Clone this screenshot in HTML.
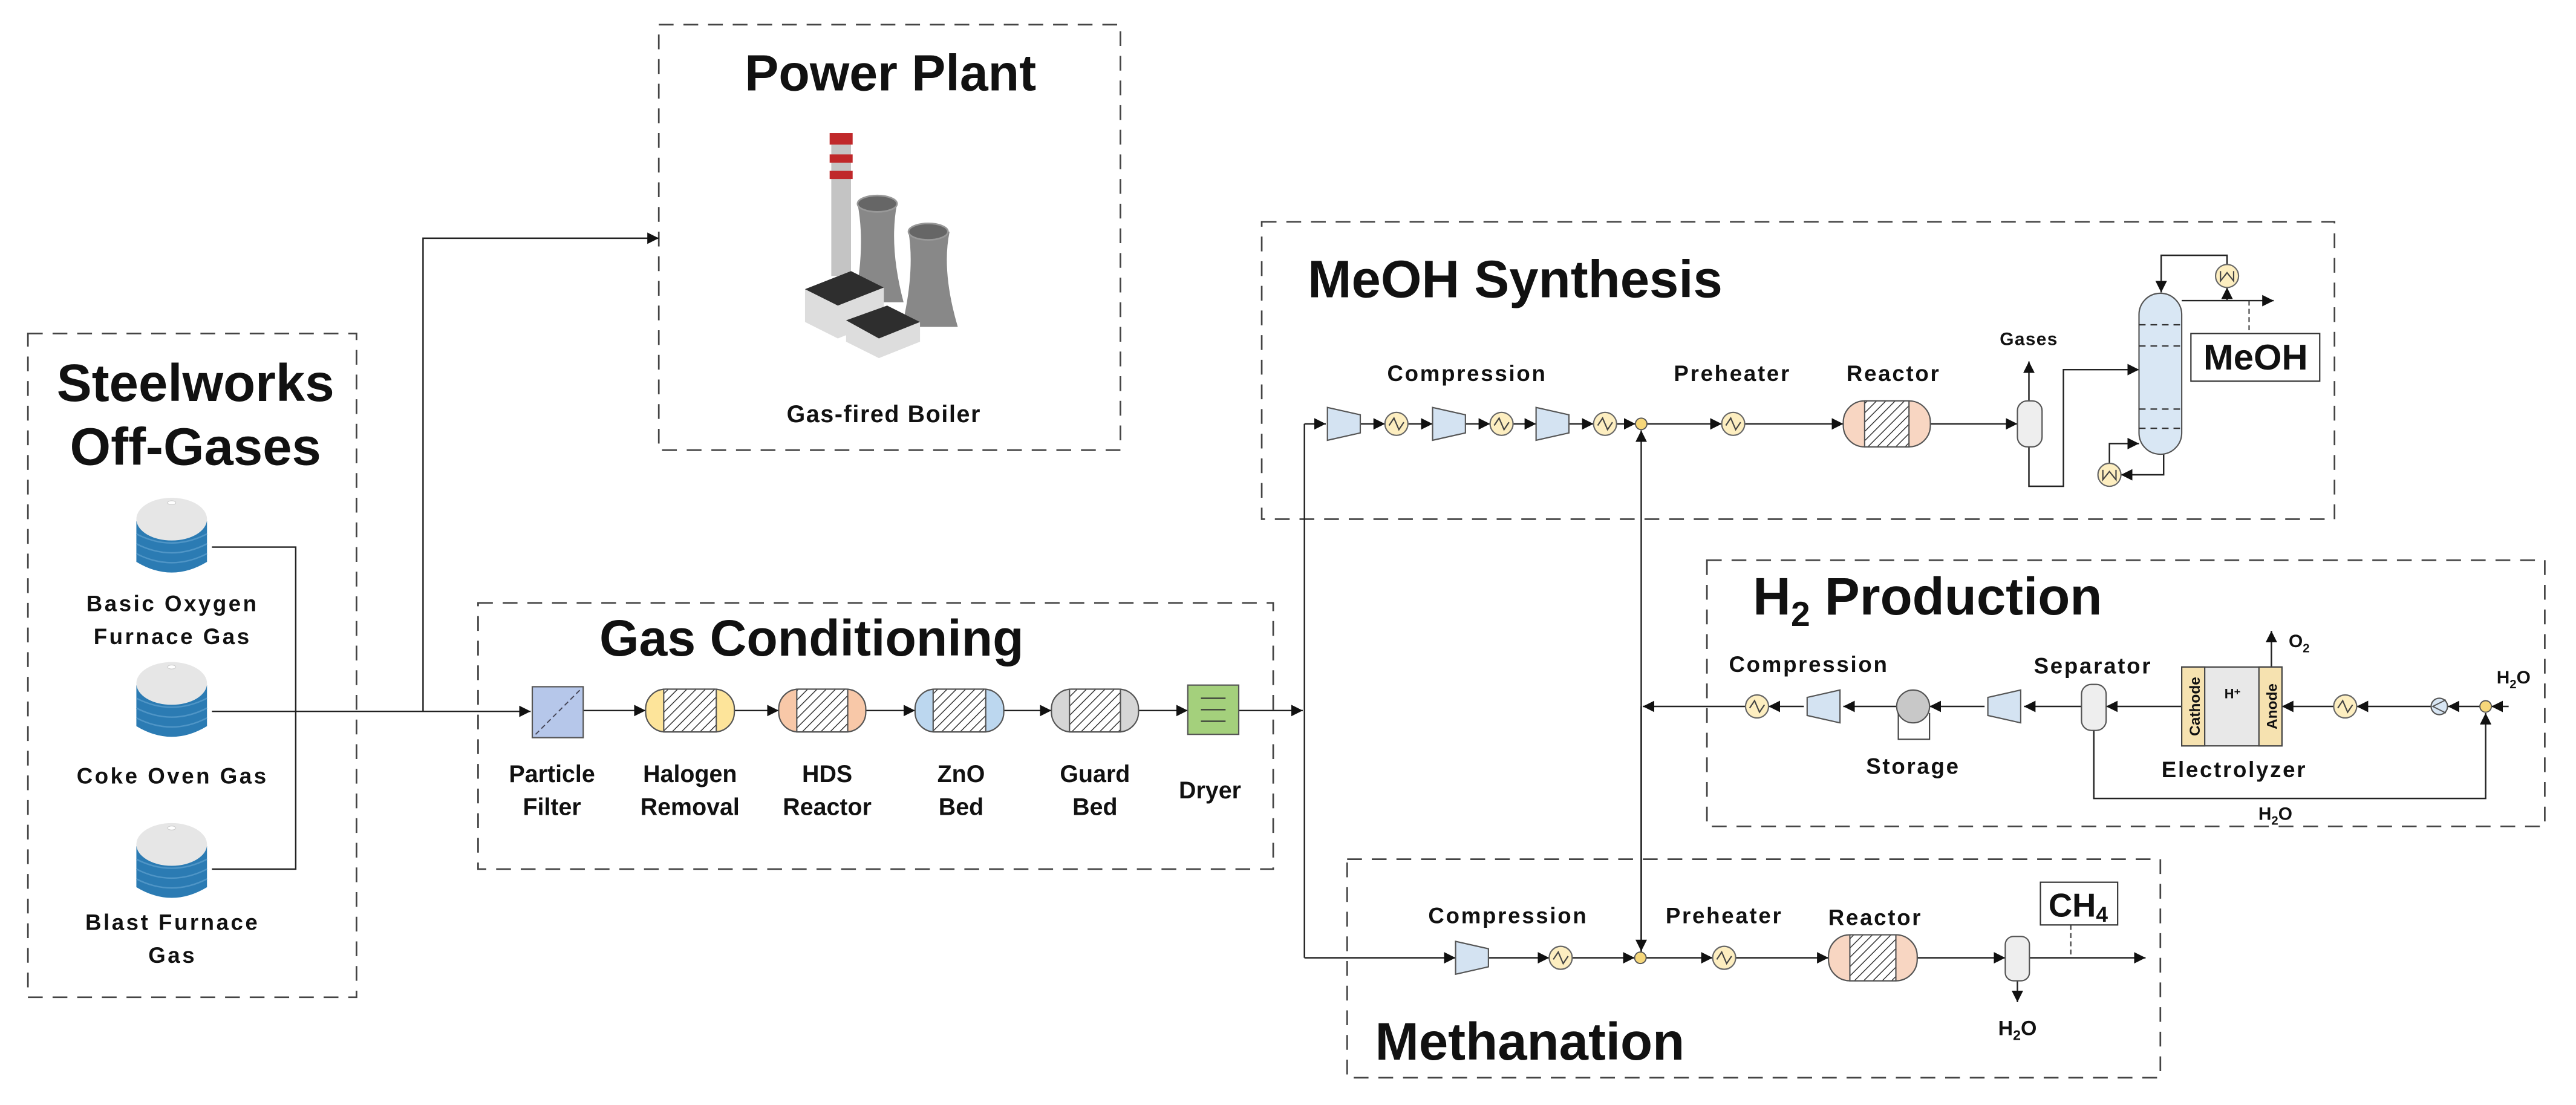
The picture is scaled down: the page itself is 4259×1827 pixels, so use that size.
<!DOCTYPE html>
<html><head><meta charset="utf-8"><style>
html,body{margin:0;padding:0;background:#fff;}
svg{display:block;}
text{font-family:"Liberation Sans",Arial,sans-serif;font-weight:bold;fill:#111;}
</style></head><body>
<svg width="4259" height="1827" viewBox="0 0 1568 672.6" preserveAspectRatio="none" xmlns="http://www.w3.org/2000/svg">
<defs>
<marker id="a" viewBox="0 0 10 10" refX="10" refY="5" markerWidth="7" markerHeight="7" orient="auto" markerUnits="userSpaceOnUse"><path d="M0,0L10,5L0,10z" fill="#111"/></marker>
<pattern id="h" width="4" height="4" patternUnits="userSpaceOnUse" patternTransform="rotate(45)"><rect width="4" height="4" fill="#fff"/><line x1="0" y1="0" x2="0" y2="4" stroke="#333" stroke-width="1.1"/></pattern>
<g id="hx"><circle r="7" fill="#fdeec0" stroke="#666" stroke-width="0.8"/><path d="M-4.5,1 L-1.5,-3.5 L1.5,3.5 L4.5,-1" fill="none" stroke="#444" stroke-width="0.8"/></g>
<g id="hxv"><circle r="7" fill="#fdeec0" stroke="#666" stroke-width="0.8"/><path d="M3,-4 L-3,-4 L2,0 L-3,4 L3,4" fill="none" stroke="#444" stroke-width="0.8" transform="rotate(-90)"/></g>
<g id="cmp"><path d="M-10,-10 L10,-5.5 L10,5.5 L-10,10z" fill="#d4e3f2" stroke="#555" stroke-width="0.8"/></g>
<g id="cmpL"><path d="M10,-10 L-10,-5.5 L-10,5.5 L10,10z" fill="#d4e3f2" stroke="#555" stroke-width="0.8"/></g>
<g id="mix"><circle r="3.5" fill="#f6d77a" stroke="#555" stroke-width="0.7"/></g>
<g id="tank">
<path d="M-21.5,-9 L-21.5,16 Q0,29 21.5,16 L21.5,-9z" fill="#2b7bb3"/>
<path d="M-21.5,-1 Q0,10 21.5,-1 M-21.5,5 Q0,16 21.5,5 M-21.5,11 Q0,22 21.5,11" fill="none" stroke="#4f95c6" stroke-width="0.9"/>
<ellipse cx="0" cy="-10" rx="21.5" ry="13" fill="#e6e6e6"/>
<ellipse cx="0" cy="-20" rx="2.5" ry="1.2" fill="#fff" stroke="#ccc" stroke-width="0.4"/>
</g>
</defs>

<g fill="none" stroke="#444" stroke-width="1" stroke-dasharray="9,6">
<rect x="401" y="15" width="281" height="259"/>
<rect x="17" y="203" width="200" height="404"/>
<rect x="291" y="367" width="484" height="162"/>
<rect x="768" y="135" width="653" height="181"/>
<rect x="1039" y="341" width="510" height="162"/>
<rect x="820" y="523" width="495" height="133"/>
</g>

<!-- titles -->
<text x="542" y="55" font-size="31" text-anchor="middle">Power Plant</text>
<text x="119" y="244" font-size="32" text-anchor="middle">Steelworks</text>
<text x="119" y="283" font-size="32" text-anchor="middle">Off-Gases</text>
<text x="494" y="399" font-size="31" text-anchor="middle">Gas Conditioning</text>
<text x="796" y="181" font-size="32">MeOH Synthesis</text>
<text x="1067" y="374" font-size="32">H<tspan font-size="21" dy="7">2</tspan><tspan dy="-7"> Production</tspan></text>
<text x="837" y="645" font-size="32">Methanation</text>

<!-- power plant icon -->
<rect x="506" y="88" width="12" height="80" fill="#c4c4c4"/>
<rect x="505" y="81" width="14" height="7" fill="#c0282a"/>
<rect x="505" y="94" width="14" height="5" fill="#c0282a"/>
<rect x="505" y="104" width="14" height="5" fill="#c0282a"/>
<path d="M522,124 L546,124 Q541,150 550,184 L520,184 Q527,150 522,124z" fill="#888"/>
<ellipse cx="534" cy="124" rx="12" ry="5" fill="#666" stroke="#999"/>
<path d="M553,141 L578,141 Q573,165 583,199 L549,199 Q557,165 553,141z" fill="#888"/>
<ellipse cx="565" cy="141" rx="12" ry="5" fill="#666" stroke="#999"/>
<path d="M490,176 L518,165 L538,175 L538,195 L510,206 L490,196z" fill="#ddd"/>
<path d="M490,176 L518,165 L538,175 L510,186z" fill="#2e2e2e"/>
<path d="M515,195 L540,186 L560,196 L560,208 L535,218 L515,208z" fill="#ddd"/>
<path d="M515,195 L540,186 L560,196 L535,206z" fill="#2e2e2e"/>
<text x="538" y="257" font-size="14.5" text-anchor="middle" letter-spacing="0.6">Gas-fired Boiler</text>

<!-- tanks -->
<use href="#tank" x="104.5" y="326"/>
<use href="#tank" x="104.5" y="426"/>
<use href="#tank" x="104.5" y="524"/>
<g font-size="13.5" text-anchor="middle" letter-spacing="1.3">
<text x="105" y="372">Basic Oxygen</text><text x="105" y="392">Furnace Gas</text>
<text x="105" y="477">Coke Oven Gas</text>
<text x="105" y="566">Blast Furnace</text><text x="105" y="586">Gas</text>
</g>

<g fill="none" stroke="#222" stroke-width="0.9">
<path d="M129,333 H180 V529 H129"/>
<path d="M129,433 H323" marker-end="url(#a)"/>
<path d="M257.5,433 V145 H401" marker-end="url(#a)"/>
<path d="M355,432.5 H393" marker-end="url(#a)"/>
<path d="M447,432.5 H474" marker-end="url(#a)"/>
<path d="M527,432.5 H557" marker-end="url(#a)"/>
<path d="M611,432.5 H640" marker-end="url(#a)"/>
<path d="M693,432.5 H723" marker-end="url(#a)"/>
<path d="M754,432.5 H793" marker-end="url(#a)"/>
<path d="M794,258 V583"/>
<path d="M794,258 H807" marker-end="url(#a)"/>
<path d="M794,583 H886" marker-end="url(#a)"/>
<!-- MeOH line -->
<path d="M828,258 H843" marker-end="url(#a)"/>
<path d="M857,258 H872" marker-end="url(#a)"/>
<path d="M921,258 H907" />
<path d="M892,258 H907" marker-end="url(#a)"/>
<path d="M921,258 H935" marker-end="url(#a)"/>
<path d="M955,258 H970" marker-end="url(#a)"/>
<path d="M984,258 H995.5" marker-end="url(#a)"/>
<path d="M1002.5,258 H1048" marker-end="url(#a)"/>
<path d="M1062,258 H1122" marker-end="url(#a)"/>
<path d="M1175,258 H1228" marker-end="url(#a)"/>
<path d="M1235,244 V220" marker-end="url(#a)"/>
<path d="M1235,272 V296 H1256 V225 H1302" marker-end="url(#a)"/>
<path d="M1328,183 H1384" marker-end="url(#a)"/>
<path d="M1355.6,183 V175" marker-end="url(#a)"/>
<path d="M1355.6,161 V155.4 H1315.5 V178" marker-end="url(#a)"/>
<path d="M1317,276 V289 H1291" marker-end="url(#a)"/>
<path d="M1284,282 V270 H1302" marker-end="url(#a)"/>
<!-- vertical between -->
<path d="M999,583 V262" marker-end="url(#a)"/>
<path d="M999,430 V579" marker-end="url(#a)"/>
<!-- H2 line -->
<path d="M1527,430 H1516.5" marker-end="url(#a)"/>
<path d="M1509.5,430 H1490" marker-end="url(#a)"/>
<path d="M1479.5,430 H1434.5" marker-end="url(#a)"/>
<path d="M1420.5,430 H1389" marker-end="url(#a)"/>
<path d="M1328,430 H1282" marker-end="url(#a)"/>
<path d="M1267,430 H1232" marker-end="url(#a)"/>
<path d="M1208,430 H1174.5" marker-end="url(#a)"/>
<path d="M1154.5,430 H1122" marker-end="url(#a)"/>
<path d="M1098,430 H1076.5" marker-end="url(#a)"/>
<path d="M1062.5,430 H1000" marker-end="url(#a)"/>
<path d="M1382.6,406 V384" marker-end="url(#a)"/>
<path d="M1274.5,444 V486 H1513 V434" marker-end="url(#a)"/>
<!-- methanation -->
<path d="M906,583 H943" marker-end="url(#a)"/>
<path d="M957,583 H995" marker-end="url(#a)"/>
<path d="M1002,583 H1042.5" marker-end="url(#a)"/>
<path d="M1056.5,583 H1113" marker-end="url(#a)"/>
<path d="M1167,583 H1220.6" marker-end="url(#a)"/>
<path d="M1235.3,583 H1306" marker-end="url(#a)"/>
<path d="M1228,597 V610" marker-end="url(#a)"/>
</g>
<g fill="none" stroke="#444" stroke-width="0.8" stroke-dasharray="3,2">
<path d="M1369,183 V203"/>
<path d="M1260.5,563 V583"/>
</g>

<!-- gas conditioning equipment -->
<rect x="324" y="418" width="31" height="31" fill="#b6c7ea" stroke="#555" stroke-width="0.8"/>
<path d="M326,447 L353,420" stroke="#445" stroke-width="0.7" stroke-dasharray="3,2"/>
<g stroke="#555" stroke-width="0.8">
<rect x="393" y="419.5" width="54" height="26" rx="12" fill="#fde49a"/><rect x="404" y="419.5" width="32" height="26" fill="url(#h)"/>
<rect x="474" y="419.5" width="53" height="26" rx="12" fill="#f8c8a8"/><rect x="485" y="419.5" width="31" height="26" fill="url(#h)"/>
<rect x="557" y="419.5" width="54" height="26" rx="12" fill="#bcd7ef"/><rect x="568" y="419.5" width="32" height="26" fill="url(#h)"/>
<rect x="640" y="419.5" width="53" height="26" rx="12" fill="#d6d6d6"/><rect x="651" y="419.5" width="31" height="26" fill="url(#h)"/>
<rect x="723" y="417" width="31" height="30" fill="#a4d07c"/>
<path d="M731,425 H746 M731,432 H746 M731,439 H746" stroke="#333"/>
</g>
<g font-size="14.5" text-anchor="middle">
<text x="336" y="476">Particle</text><text x="336" y="496">Filter</text>
<text x="420" y="476">Halogen</text><text x="420" y="496">Removal</text>
<text x="503.5" y="476">HDS</text><text x="503.5" y="496">Reactor</text>
<text x="585" y="476">ZnO</text><text x="585" y="496">Bed</text>
<text x="666.5" y="476">Guard</text><text x="666.5" y="496">Bed</text>
<text x="736.5" y="486">Dryer</text>
</g>

<!-- MeOH equipment -->
<use href="#cmp" x="818" y="258"/><use href="#hx" x="850" y="258"/>
<use href="#cmp" x="882" y="258"/><use href="#hx" x="914" y="258"/>
<use href="#cmp" x="945" y="258"/><use href="#hx" x="977" y="258"/>
<use href="#mix" x="999" y="258"/>
<use href="#hx" x="1055" y="258"/>
<rect x="1122" y="244" width="53" height="28" rx="13" fill="#f8d6c2" stroke="#555" stroke-width="0.8"/>
<rect x="1135" y="244" width="27" height="28" fill="url(#h)" stroke="#555" stroke-width="0.8"/>
<rect x="1228" y="244" width="15" height="28" rx="6" fill="#eee" stroke="#555" stroke-width="0.8"/>
<rect x="1302" y="178.5" width="26" height="98" rx="13" fill="#d9e7f4" stroke="#555" stroke-width="0.8"/>
<g stroke="#333" stroke-width="0.8" stroke-dasharray="4,3"><path d="M1302,197.7 H1328 M1302,210.6 H1328 M1302,249 H1328 M1302,260.7 H1328"/></g>
<use href="#hxv" x="1355.6" y="168"/>
<use href="#hxv" x="1284" y="289"/>
<rect x="1333.6" y="203" width="78.4" height="29" fill="#fff" stroke="#333" stroke-width="0.8"/>
<text x="1373" y="225" font-size="22" text-anchor="middle">MeOH</text>
<g font-size="13.5" text-anchor="middle" letter-spacing="1">
<text x="893" y="232">Compression</text>
<text x="1054.5" y="232">Preheater</text>
<text x="1152.6" y="232">Reactor</text>
<text x="1235" y="210" font-size="11" letter-spacing="0.5">Gases</text>
</g>

<!-- H2 equipment -->
<use href="#hx" x="1069.5" y="430"/>
<use href="#cmpL" x="1110" y="430"/>
<circle cx="1164.5" cy="430" r="10" fill="#c8c8c8" stroke="#555" stroke-width="0.8"/>
<path d="M1155.5,434 V450 H1174.5 V434" fill="none" stroke="#444" stroke-width="0.8"/>
<use href="#cmpL" x="1220" y="430"/>
<rect x="1267" y="416.6" width="15" height="28" rx="6" fill="#eee" stroke="#555" stroke-width="0.8"/>
<rect x="1328" y="406" width="61" height="48" fill="#e8e8e8" stroke="#444" stroke-width="0.8"/>
<rect x="1328" y="406" width="14" height="48" fill="#f6e2b0" stroke="#444" stroke-width="0.8"/>
<rect x="1375" y="406" width="14" height="48" fill="#f6e2b0" stroke="#444" stroke-width="0.8"/>
<text x="1335" y="431" font-size="9" font-weight="normal" text-anchor="middle" transform="rotate(-90 1335 430)" dy="3">Cathode</text>
<text x="1382" y="431" font-size="9" font-weight="normal" text-anchor="middle" transform="rotate(-90 1382 430)" dy="3">Anode</text>
<text x="1354" y="425" font-size="8" font-weight="normal" fill="#333">H⁺</text>
<use href="#hx" x="1427.5" y="430"/>
<circle cx="1484.8" cy="430" r="5" fill="#d8e6f4" stroke="#555" stroke-width="0.8"/>
<path d="M1488.8,426 L1480.8,430 L1488.8,434" fill="none" stroke="#555" stroke-width="0.7"/>
<use href="#mix" x="1513" y="430"/>
<g font-size="13.5" text-anchor="middle" letter-spacing="1">
<text x="1101" y="409">Compression</text>
<text x="1274" y="410">Separator</text>
<text x="1164.5" y="471">Storage</text>
<text x="1360" y="473">Electrolyzer</text>
<text x="1399.5" y="394" font-size="11" letter-spacing="0">O<tspan font-size="7.5" dy="3">2</tspan></text>
<text x="1530" y="416" font-size="11" letter-spacing="0">H<tspan font-size="7.5" dy="3">2</tspan><tspan dy="-3">O</tspan></text>
<text x="1385" y="499" font-size="11" letter-spacing="0">H<tspan font-size="7.5" dy="3">2</tspan><tspan dy="-3">O</tspan></text>
</g>

<!-- methanation equipment -->
<use href="#cmp" x="896" y="583"/><use href="#hx" x="950" y="583"/>
<use href="#mix" x="998.5" y="583"/>
<use href="#hx" x="1049.5" y="583"/>
<rect x="1113" y="569" width="54" height="28" rx="13" fill="#f8d6c2" stroke="#555" stroke-width="0.8"/>
<rect x="1126" y="569" width="28" height="28" fill="url(#h)" stroke="#555" stroke-width="0.8"/>
<rect x="1220.6" y="570" width="14.7" height="27" rx="5" fill="#eee" stroke="#555" stroke-width="0.8"/>
<rect x="1242" y="537" width="47" height="26" fill="#fff" stroke="#333" stroke-width="0.8"/>
<text x="1265" y="558" font-size="20" text-anchor="middle">CH<tspan font-size="13" dy="3">4</tspan></text>
<g font-size="13.5" text-anchor="middle" letter-spacing="1">
<text x="918" y="562">Compression</text>
<text x="1049.5" y="562">Preheater</text>
<text x="1141.5" y="563">Reactor</text>
<text x="1228" y="630" font-size="12.5" letter-spacing="0">H<tspan font-size="8.5" dy="3">2</tspan><tspan dy="-3">O</tspan></text>
</g>
</svg>
</body></html>
